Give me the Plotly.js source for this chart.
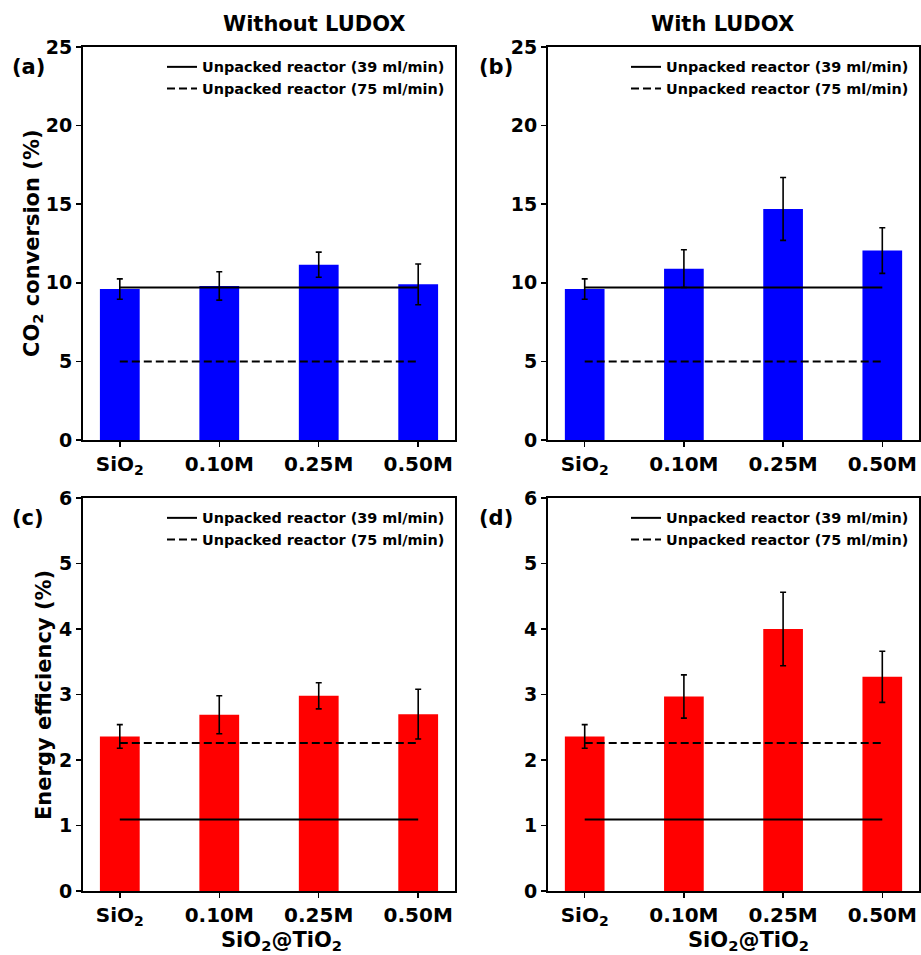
<!DOCTYPE html>
<html>
<head>
<meta charset="utf-8">
<script src="https://cdn.plot.ly/plotly-3.0.1.min.js"></script>
<style>html,body{margin:0;padding:0;background:#fff;}#chart{width:921px;height:955px;}</style>
</head>
<body>
<div id="chart"></div>
<script>
// ---- data ----
const categories = ['SiO<sub>2</sub>', '0.10M', '0.25M', '0.50M'];

const convWithout = [9.6, 9.8, 11.15, 9.9];
const convWithoutErr = [0.65, 0.9, 0.8, 1.3];
const convWith = [9.6, 10.9, 14.7, 12.05];
const convWithErr = [0.65, 1.2, 2.0, 1.45];

const effWithout = [2.36, 2.69, 2.98, 2.70];
const effWithoutErr = [0.18, 0.29, 0.2, 0.38];
const effWith = [2.36, 2.97, 4.0, 3.27];
const effWithErr = [0.18, 0.33, 0.56, 0.39];

const convUnpacked39 = 9.7;
const convUnpacked75 = 5.0;
const effUnpacked39 = 1.09;
const effUnpacked75 = 2.26;

const legendNames = ['Unpacked reactor (39 ml/min)', 'Unpacked reactor (75 ml/min)'];

// ---- build ----
const FONT = 'DejaVu Sans, Arial, sans-serif';
const BLUE = '#0000ff', RED = '#ff0000';
const DASH = '8px,4px';

function barTrace(vals, errs, color, xa, ya) {
  return {
    type: 'bar', x: categories, y: vals, xaxis: xa, yaxis: ya,
    marker: {color: color, line: {width: 0}},
    error_y: {type: 'data', array: errs, visible: true, color: '#000', thickness: 1.6, width: 3},
    showlegend: false, hoverinfo: 'skip'
  };
}
function refLine(val, name, dash, xa, ya, leg) {
  return {
    type: 'scatter', mode: 'lines',
    x: [categories[0], categories[categories.length - 1]],
    y: [val, val], xaxis: xa, yaxis: ya,
    line: {color: '#000', width: 2, dash: dash},
    name: name, legend: leg, showlegend: true, hoverinfo: 'skip'
  };
}

const traces = [
  barTrace(convWithout, convWithoutErr, BLUE, 'x', 'y'),
  refLine(convUnpacked39, legendNames[0], 'solid', 'x', 'y', 'legend'),
  refLine(convUnpacked75, legendNames[1], DASH, 'x', 'y', 'legend'),

  barTrace(convWith, convWithErr, BLUE, 'x2', 'y2'),
  refLine(convUnpacked39, legendNames[0], 'solid', 'x2', 'y2', 'legend2'),
  refLine(convUnpacked75, legendNames[1], DASH, 'x2', 'y2', 'legend2'),

  barTrace(effWithout, effWithoutErr, RED, 'x3', 'y3'),
  refLine(effUnpacked39, legendNames[0], 'solid', 'x3', 'y3', 'legend3'),
  refLine(effUnpacked75, legendNames[1], DASH, 'x3', 'y3', 'legend3'),

  barTrace(effWith, effWithErr, RED, 'x4', 'y4'),
  refLine(effUnpacked39, legendNames[0], 'solid', 'x4', 'y4', 'legend4'),
  refLine(effUnpacked75, legendNames[1], DASH, 'x4', 'y4', 'legend4')
];

const W = 921, H = 955;
const colL = [83 / W, 455 / W], colR = [548 / W, 919 / W];
const rowT = [(H - 440) / H, (H - 47) / H], rowB = [(H - 891) / H, (H - 498) / H];

function xax(dom, anchor) {
  return {
    domain: dom, anchor: anchor, type: 'category', range: [-0.37, 3.37],
    showline: true, mirror: true, linecolor: '#000', linewidth: 2,
    ticks: 'outside', ticklen: 5, tickwidth: 1.5, tickcolor: '#000',
    showgrid: false, zeroline: false,
    tickfont: {family: FONT, size: 20, color: '#000', weight: 'bold'}
  };
}
function yax(dom, anchor, max) {
  return {
    domain: dom, anchor: anchor, range: [0, max], dtick: max > 10 ? 5 : 1, tick0: 0,
    showline: true, mirror: true, linecolor: '#000', linewidth: 2,
    ticks: 'outside', ticklen: 5, tickwidth: 1.5, tickcolor: '#000',
    showgrid: false, zeroline: false,
    tickfont: {family: FONT, size: 19, color: '#000', weight: 'bold'}
  };
}
function leg(xr, ytop) {
  return {
    x: xr, y: ytop, xanchor: 'right', yanchor: 'top',
    bgcolor: 'rgba(0,0,0,0)', borderwidth: 0,
    font: {family: FONT, size: 14.4, color: '#000', weight: 'bold'},
    itemwidth: 30, tracegroupgap: 0
  };
}

const titleFont = {family: FONT, size: 21, color: '#000', weight: 'bold'};
const annotations = [
  {text: 'Without LUDOX', x: 314 / W, y: (H - 24) / H, xref: 'paper', yref: 'paper', showarrow: false, font: titleFont, xanchor: 'center', yanchor: 'middle'},
  {text: 'With LUDOX', x: 722 / W, y: (H - 24) / H, xref: 'paper', yref: 'paper', showarrow: false, font: titleFont, xanchor: 'center', yanchor: 'middle'},
  {text: '(a)', x: 10 / W, y: (H - 67) / H, xref: 'paper', yref: 'paper', showarrow: false, font: titleFont, xanchor: 'left', yanchor: 'middle'},
  {text: '(b)', x: 477 / W, y: (H - 67) / H, xref: 'paper', yref: 'paper', showarrow: false, font: titleFont, xanchor: 'left', yanchor: 'middle'},
  {text: '(c)', x: 10 / W, y: (H - 518) / H, xref: 'paper', yref: 'paper', showarrow: false, font: titleFont, xanchor: 'left', yanchor: 'middle'},
  {text: '(d)', x: 477 / W, y: (H - 518) / H, xref: 'paper', yref: 'paper', showarrow: false, font: titleFont, xanchor: 'left', yanchor: 'middle'},
  {text: 'CO<sub>2</sub> conversion (%)', x: 33 / W, y: (H - 243) / H, xref: 'paper', yref: 'paper', showarrow: false, font: titleFont, textangle: -90, xanchor: 'center', yanchor: 'middle'},
  {text: 'Energy efficiency (%)', x: 44 / W, y: (H - 695) / H, xref: 'paper', yref: 'paper', showarrow: false, font: titleFont, textangle: -90, xanchor: 'center', yanchor: 'middle'},
  {text: 'SiO<sub>2</sub>@TiO<sub>2</sub>', x: 281 / W, y: (H - 941) / H, xref: 'paper', yref: 'paper', showarrow: false, font: titleFont, xanchor: 'center', yanchor: 'middle'},
  {text: 'SiO<sub>2</sub>@TiO<sub>2</sub>', x: 748 / W, y: (H - 941) / H, xref: 'paper', yref: 'paper', showarrow: false, font: titleFont, xanchor: 'center', yanchor: 'middle'}
];

const layout = {
  width: W, height: H,
  margin: {l: 0, r: 0, t: 0, b: 0},
  paper_bgcolor: '#fff', plot_bgcolor: '#fff',
  bargap: 0.6,
  font: {family: FONT, color: '#000'},
  xaxis: xax(colL, 'y'), yaxis: yax(rowT, 'x', 25),
  xaxis2: xax(colR, 'y2'), yaxis2: yax(rowT, 'x2', 25),
  xaxis3: xax(colL, 'y3'), yaxis3: yax(rowB, 'x3', 6),
  xaxis4: xax(colR, 'y4'), yaxis4: yax(rowB, 'x4', 6),
  legend: leg(450 / W, (H - 51) / H),
  legend2: leg(914 / W, (H - 51) / H),
  legend3: leg(450 / W, (H - 502) / H),
  legend4: leg(914 / W, (H - 502) / H),
  annotations: annotations
};

Plotly.newPlot('chart', traces, layout, {displayModeBar: false, staticPlot: true});
</script>
</body>
</html>
